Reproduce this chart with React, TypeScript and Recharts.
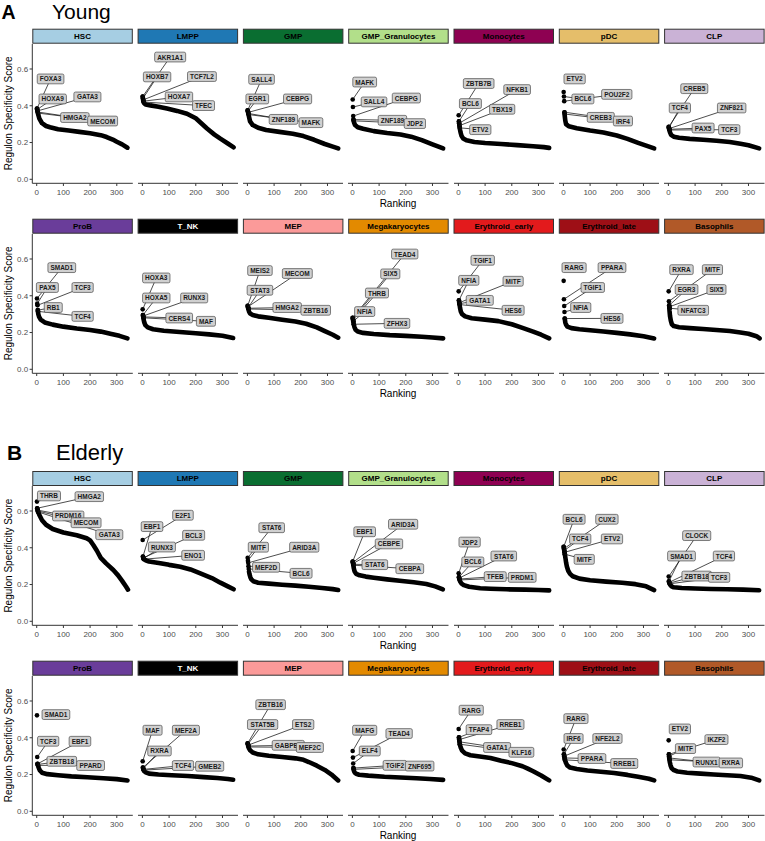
import React from 'react';
import { ComposedChart, Line, Scatter, XAxis, YAxis } from 'recharts';

const FONT = '"Liberation Sans", Arial, Helvetica, sans-serif';

const cellTypes = ['HSC', 'LMPP', 'GMP', 'GMP_Granulocytes', 'Monocytes', 'pDC', 'CLP', 'ProB', 'T_NK', 'MEP', 'Megakaryocytes', 'Erythroid_early', 'Erythroid_late', 'Basophils'];
const stripFill = ['#A6CEE3', '#1F78B4', '#0A6E31', '#B2DF8A', '#8E0152', '#E5BE6A', '#CAB2D6', '#6A3D9A', '#000000', '#FB9A99', '#E38A00', '#E31A1C', '#9E0F16', '#B15928'];
const stripTextColor = ['#000', '#000', '#000', '#000', '#000', '#000', '#000', '#000', '#FFF', '#000', '#000', '#000', '#000', '#000'];

const xTicks = [0, 100, 200, 300];
const yTicks = [0, 0.2, 0.4, 0.6];
const sections = ['Young', 'Elderly'];
const sectionLetters = ['A', 'B'];

// ---------- Young ----------
const youngTop: number[][] = [
  [0.385, 0.38, 0.372, 0.366, 0.36],
  [0.45, 0.44, 0.432, 0.425, 0.42],
  [0.375, 0.37, 0.364, 0.358, 0.352],
  [0.434, 0.393, 0.344, 0.325, 0.318],
  [0.348, 0.315, 0.305, 0.292, 0.28],
  [0.475, 0.45, 0.425, 0.365, 0.355],
  [0.285, 0.28, 0.276, 0.272, 0.268],
  [0.385, 0.357, 0.348, 0.322, 0.315],
  [0.326, 0.295, 0.29, 0.285, 0.28],
  [0.345, 0.34, 0.336, 0.332, 0.328],
  [0.28, 0.275, 0.27, 0.262, 0.245],
  [0.424, 0.375, 0.362, 0.357, 0.352],
  [0.481, 0.381, 0.344, 0.312, 0.276],
  [0.424, 0.37, 0.348, 0.34, 0.332],
];

const youngCurve: number[][][] = [
  [[1, 0.385], [3, 0.37], [6, 0.35], [10, 0.33], [20, 0.305], [35, 0.29], [50, 0.283], [80, 0.272], [120, 0.265], [160, 0.258], [200, 0.25], [240, 0.24], [262, 0.23], [285, 0.216], [300, 0.204], [320, 0.19], [340, 0.172]],
  [[1, 0.45], [3, 0.43], [6, 0.415], [12, 0.407], [30, 0.402], [60, 0.395], [92, 0.385], [130, 0.372], [167, 0.357], [200, 0.332], [242, 0.276], [270, 0.243], [292, 0.221], [320, 0.195], [342, 0.174]],
  [[1, 0.375], [3, 0.36], [6, 0.34], [10, 0.315], [20, 0.295], [40, 0.28], [70, 0.268], [120, 0.258], [170, 0.248], [210, 0.235], [250, 0.215], [290, 0.192], [320, 0.178], [340, 0.168]],
  [[4, 0.325], [6, 0.31], [10, 0.295], [20, 0.283], [40, 0.275], [80, 0.262], [130, 0.252], [180, 0.244], [220, 0.232], [260, 0.213], [300, 0.19], [340, 0.168]],
  [[2, 0.315], [4, 0.29], [6, 0.27], [8, 0.255], [12, 0.235], [18, 0.222], [30, 0.212], [60, 0.203], [100, 0.197], [160, 0.192], [220, 0.186], [280, 0.18], [320, 0.175], [340, 0.171]],
  [[4, 0.365], [5, 0.345], [7, 0.32], [10, 0.3], [20, 0.288], [50, 0.278], [100, 0.265], [150, 0.254], [200, 0.238], [240, 0.22], [280, 0.198], [310, 0.183], [340, 0.168]],
  [[1, 0.285], [3, 0.27], [6, 0.255], [10, 0.242], [20, 0.232], [40, 0.226], [80, 0.22], [130, 0.215], [180, 0.21], [230, 0.203], [270, 0.193], [300, 0.185], [340, 0.168]],
  [[4, 0.322], [6, 0.3], [9, 0.285], [15, 0.27], [30, 0.255], [60, 0.243], [100, 0.232], [150, 0.222], [200, 0.214], [240, 0.205], [280, 0.192], [310, 0.182], [340, 0.168]],
  [[2, 0.295], [4, 0.275], [7, 0.255], [11, 0.24], [20, 0.228], [40, 0.218], [80, 0.21], [140, 0.203], [200, 0.196], [250, 0.19], [300, 0.182], [340, 0.17]],
  [[1, 0.345], [3, 0.33], [6, 0.315], [10, 0.303], [20, 0.295], [40, 0.288], [80, 0.28], [130, 0.27], [180, 0.26], [220, 0.248], [260, 0.228], [290, 0.208], [320, 0.188], [340, 0.172]],
  [[1, 0.28], [3, 0.262], [5, 0.245], [8, 0.228], [12, 0.215], [20, 0.205], [40, 0.198], [80, 0.192], [140, 0.186], [200, 0.182], [260, 0.177], [300, 0.173], [340, 0.168]],
  [[2, 0.375], [4, 0.355], [6, 0.335], [9, 0.315], [14, 0.3], [25, 0.288], [50, 0.278], [100, 0.27], [150, 0.262], [200, 0.245], [240, 0.225], [280, 0.205], [310, 0.188], [340, 0.168]],
  [[5, 0.276], [7, 0.255], [10, 0.243], [15, 0.232], [30, 0.224], [60, 0.218], [100, 0.212], [150, 0.206], [200, 0.198], [250, 0.19], [300, 0.18], [340, 0.168]],
  [[3, 0.348], [4, 0.32], [6, 0.29], [9, 0.265], [13, 0.245], [20, 0.235], [40, 0.229], [80, 0.224], [130, 0.219], [180, 0.214], [230, 0.208], [270, 0.2], [300, 0.193], [330, 0.18], [342, 0.168]],
];

// [name, label rank, label score, 0 = no segment]
type Lab = [string, number, number, number?];
const youngLabels: Lab[][] = [
  [['FOXA3', 52, 0.546], ['HOXA9', 60, 0.437], ['GATA3', 190, 0.448], ['HMGA2', 143, 0.336], ['MECOM', 247, 0.317]],
  [['AKR1A1', 104, 0.665], ['HOXB7', 55, 0.557], ['TCF7L2', 223, 0.559], ['HOXA7', 137, 0.448], ['TFEC', 229, 0.401]],
  [['SALL4', 53, 0.544], ['EGR1', 37, 0.437], ['CEBPG', 188, 0.437], ['ZNF189', 135, 0.326], ['MAFK', 238, 0.308]],
  [['MAFK', 46, 0.529], ['SALL4', 81, 0.421], ['CEBPG', 202, 0.442], ['ZNF189', 150, 0.321], ['JDP2', 234, 0.303]],
  [['ZBTB7B', 76, 0.521], ['BCL6', 45, 0.412], ['NFKB1', 220, 0.488], ['TBX19', 164, 0.381], ['ETV2', 82, 0.27]],
  [['ETV2', 42, 0.546, 0], ['BCL6', 73, 0.437], ['POU2F2', 200, 0.462], ['CREB3', 140, 0.337], ['IRF4', 223, 0.317]],
  [['CREB5', 97, 0.493], ['TCF4', 43, 0.388], ['ZNF821', 237, 0.388], ['PAX5', 130, 0.279], ['TCF3', 228, 0.27]],
  [['SMAD1', 94, 0.553], ['PAX5', 40, 0.445], ['TCF3', 172, 0.445], ['RB1', 62, 0.336], ['TCF4', 172, 0.288]],
  [['HOXA3', 52, 0.497], ['HOXA5', 52, 0.388], ['RUNX3', 194, 0.388], ['CERS4', 138, 0.279], ['MAF', 238, 0.261]],
  [['MEIS2', 47, 0.537], ['MECOM', 187, 0.521], ['STAT3', 47, 0.43], ['HMGA2', 149, 0.336], ['ZBTB16', 256, 0.321]],
  [['TEAD4', 196, 0.627], ['SIX5', 142, 0.519], ['THRB', 92, 0.415], ['NFIA', 46, 0.314], ['ZFHX3', 167, 0.25]],
  [['TGIF1', 91, 0.593], ['NFIA', 39, 0.484], ['MITF', 205, 0.479], ['GATA1', 80, 0.375], ['HES6', 205, 0.321]],
  [['RARG', 40, 0.553, 0], ['PPARA', 182, 0.553], ['TGIF1', 110, 0.445], ['NFIA', 65, 0.336], ['HES6', 182, 0.277]],
  [['RXRA', 49, 0.542], ['MITF', 165, 0.542], ['EGR3', 68, 0.434], ['SIX5', 180, 0.434], ['NFATC3', 93, 0.321]],
];

// ---------- Elderly ----------
const elderlyTop: number[][] = [
  [0.651, 0.615, 0.605, 0.6, 0.595],
  [0.442, 0.352, 0.345, 0.342, 0.338],
  [0.345, 0.33, 0.318, 0.3, 0.285],
  [0.325, 0.32, 0.315, 0.31, 0.305],
  [0.261, 0.24, 0.235, 0.23, 0.225],
  [0.405, 0.395, 0.385, 0.375, 0.365],
  [0.243, 0.218, 0.212, 0.208, 0.204],
  [0.522, 0.295, 0.258, 0.255, 0.25],
  [0.272, 0.238, 0.232, 0.228, 0.224],
  [0.37, 0.365, 0.36, 0.355, 0.35],
  [0.328, 0.292, 0.26, 0.235, 0.228],
  [0.448, 0.402, 0.39, 0.378, 0.365],
  [0.336, 0.31, 0.3, 0.29, 0.28],
  [0.386, 0.31, 0.3, 0.29, 0.28],
];

const elderlyCurve: number[][][] = [
  [[2, 0.615], [5, 0.598], [10, 0.578], [20, 0.55], [35, 0.525], [60, 0.502], [100, 0.483], [150, 0.468], [187, 0.452], [200, 0.44], [212, 0.415], [225, 0.385], [240, 0.345], [260, 0.315], [287, 0.279], [305, 0.25], [320, 0.22], [335, 0.188], [342, 0.172]],
  [[2, 0.352], [4, 0.345], [7, 0.338], [12, 0.332], [25, 0.325], [67, 0.316], [100, 0.307], [142, 0.297], [180, 0.282], [217, 0.261], [260, 0.235], [292, 0.21], [320, 0.19], [342, 0.174]],
  [[6, 0.27], [8, 0.255], [11, 0.24], [15, 0.228], [22, 0.218], [40, 0.21], [80, 0.205], [130, 0.199], [180, 0.194], [230, 0.188], [280, 0.181], [320, 0.175], [340, 0.17]],
  [[1, 0.325], [3, 0.31], [5, 0.29], [8, 0.272], [14, 0.258], [27, 0.25], [50, 0.243], [80, 0.237], [130, 0.228], [177, 0.221], [230, 0.212], [277, 0.203], [310, 0.19], [339, 0.174]],
  [[2, 0.24], [4, 0.228], [7, 0.215], [12, 0.205], [20, 0.197], [40, 0.188], [82, 0.18], [120, 0.177], [180, 0.174], [250, 0.172], [300, 0.17], [340, 0.168]],
  [[1, 0.405], [4, 0.38], [6, 0.36], [8, 0.34], [10, 0.32], [13, 0.298], [18, 0.275], [25, 0.258], [35, 0.245], [60, 0.232], [100, 0.223], [160, 0.216], [220, 0.21], [270, 0.202], [310, 0.19], [340, 0.17]],
  [[2, 0.218], [4, 0.207], [7, 0.198], [12, 0.19], [20, 0.185], [50, 0.181], [100, 0.178], [160, 0.176], [220, 0.174], [280, 0.172], [340, 0.169]],
  [[3, 0.258], [5, 0.248], [8, 0.235], [12, 0.222], [20, 0.21], [40, 0.202], [80, 0.196], [130, 0.19], [190, 0.185], [250, 0.18], [300, 0.175], [340, 0.168]],
  [[2, 0.238], [4, 0.228], [7, 0.218], [12, 0.212], [25, 0.205], [60, 0.2], [110, 0.196], [170, 0.192], [230, 0.186], [280, 0.181], [320, 0.176], [340, 0.172]],
  [[1, 0.37], [3, 0.355], [6, 0.342], [10, 0.332], [20, 0.32], [40, 0.31], [80, 0.302], [130, 0.295], [180, 0.288], [210, 0.28], [230, 0.268], [260, 0.248], [290, 0.225], [315, 0.2], [340, 0.168]],
  [[4, 0.235], [6, 0.218], [9, 0.21], [14, 0.204], [25, 0.199], [60, 0.194], [120, 0.188], [180, 0.184], [240, 0.18], [290, 0.176], [340, 0.171]],
  [[2, 0.402], [4, 0.38], [6, 0.36], [9, 0.345], [14, 0.33], [25, 0.315], [45, 0.305], [80, 0.298], [120, 0.29], [160, 0.275], [200, 0.262], [240, 0.245], [260, 0.232], [280, 0.218], [310, 0.195], [340, 0.168]],
  [[2, 0.31], [4, 0.295], [6, 0.28], [9, 0.265], [14, 0.25], [25, 0.238], [50, 0.23], [90, 0.222], [140, 0.215], [190, 0.208], [240, 0.198], [280, 0.188], [320, 0.177], [340, 0.168]],
  [[2, 0.31], [3, 0.29], [5, 0.27], [8, 0.25], [12, 0.235], [18, 0.226], [35, 0.216], [70, 0.21], [120, 0.205], [170, 0.2], [220, 0.196], [270, 0.192], [310, 0.183], [340, 0.168]],
];

const elderlyLabels: Lab[][] = [
  [['THRB', 46, 0.682], ['HMGA2', 197, 0.678], ['PRDM16', 118, 0.573], ['MECOM', 185, 0.536], ['GATA3', 272, 0.471]],
  [['E2F1', 152, 0.577], ['EBF1', 36, 0.515], ['BCL3', 192, 0.468], ['RUNX3', 73, 0.404], ['ENO1', 190, 0.359]],
  [['STAT6', 91, 0.509], ['MITF', 41, 0.403], ['ARID3A', 213, 0.403], ['MEF2D', 70, 0.294], ['BCL6', 201, 0.261]],
  [['EBF1', 46, 0.487], ['ARID3A', 190, 0.528], ['CEBPE', 137, 0.421], ['STAT6', 84, 0.308], ['CEBPA', 215, 0.286]],
  [['JDP2', 42, 0.431], ['BCL6', 54, 0.323], ['STAT6', 170, 0.355], ['TFEB', 138, 0.243], ['PRDM1', 239, 0.239]],
  [['BCL6', 40, 0.555], ['CUX2', 163, 0.555], ['TCF4', 63, 0.448], ['ETV2', 182, 0.448], ['MITF', 78, 0.337]],
  [['CLOCK', 106, 0.466], ['SMAD1', 49, 0.355], ['TCF4', 208, 0.355], ['ZBTB18', 106, 0.246], ['TCF3', 190, 0.239]],
  [['SMAD1', 72, 0.526, 0], ['TCF3', 43, 0.381], ['EBF1', 162, 0.381], ['ZBTB18', 94, 0.272], ['PPARD', 202, 0.249]],
  [['MAF', 38, 0.441], ['MEF2A', 163, 0.441], ['RXRA', 64, 0.328], ['TCF4', 152, 0.249], ['GMEB2', 252, 0.245]],
  [['ZBTB16', 87, 0.58], ['STAT5B', 57, 0.472], ['ETS2', 209, 0.472], ['GABPB1', 153, 0.359], ['MEF2C', 234, 0.347]],
  [['MAFG', 46, 0.441], ['TEAD4', 175, 0.423], ['ELF4', 65, 0.328], ['TGIF2', 159, 0.25], ['ZNF695', 252, 0.246]],
  [['RARG', 48, 0.55], ['TFAP4', 77, 0.444], ['RREB1', 195, 0.472], ['GATA1', 145, 0.347], ['KLF16', 236, 0.321]],
  [['RARG', 47, 0.504], ['IRF6', 38, 0.396], ['NFE2L2', 165, 0.396], ['PPARA', 107, 0.287], ['RREB1', 228, 0.26]],
  [['ETV2', 43, 0.448, 0], ['IKZF2', 180, 0.39], ['MITF', 64, 0.341], ['RUNX1', 143, 0.268], ['RXRA', 234, 0.263]],
];

const tops = [youngTop, elderlyTop];
const curves = [youngCurve, elderlyCurve];
const labelSets = [youngLabels, elderlyLabels];

// ---------- layout ----------
const rowTops = [[28.7, 218.7], [471, 660.7]];
const PANEL_W = 100.5;
const COL_STEP = 105.3;
const FIRST_LEFT = 32.3;
const STRIP_H = 15;
const CHART_H = 157.3;
const XAXIS_H = 18;

const CW: Record<string, number> = {
  A: 0.722, B: 0.722, C: 0.722, D: 0.722, E: 0.667, F: 0.611, G: 0.778, H: 0.722, I: 0.278, J: 0.556,
  K: 0.722, L: 0.611, M: 0.833, N: 0.722, O: 0.778, P: 0.667, Q: 0.778, R: 0.722, S: 0.667, T: 0.611,
  U: 0.722, V: 0.667, W: 0.944, X: 0.667, Y: 0.667, Z: 0.611, _: 0.556,
};
const LAB_FS = 6.5;
const textW = (s: string, fs: number) => s.split('').reduce((a, ch) => a + (CW[ch] ?? 0.556), 0) * fs;

const dotShape = (p: any) => <circle cx={p.cx} cy={p.cy} r={2.3} fill="#000" />;
const emptyShape = () => <g />;
const labelShape = (p: any) => {
  const name: string = p.payload.name;
  const w = textW(name, LAB_FS) + 5;
  const h = 9.8;
  return (
    <g>
      <rect x={p.cx - w / 2} y={p.cy - h / 2} width={w} height={h} rx={1.6} ry={1.6} fill="#D0D0D0" stroke="#4A4A4A" strokeWidth={0.7} />
      <text x={p.cx} y={p.cy} textAnchor="middle" dominantBaseline="central" fontSize={LAB_FS} fontWeight="bold" fontFamily={FONT} fill="#1A1A1A">{name}</text>
    </g>
  );
};

function Panel({ top, curve, labels, col, T }: { top: number[]; curve: number[][]; labels: Lab[]; col: number; T: number }) {
  const first = col === 0;
  const yW = first ? FIRST_LEFT : 0;
  const left = first ? 0 : FIRST_LEFT + col * COL_STEP;
  const curveData = curve.map(([x, y]) => ({ x, y }));
  const topData = top.map((y, i) => ({ x: i + 1, y }));
  const labelData = labels.map(([name, x, y]) => ({ x, y, name }));
  return (
    <div style={{ position: 'absolute', left, top: T + STRIP_H }}>
      <ComposedChart width={PANEL_W + yW} height={CHART_H} margin={{ top: 0, right: 0, bottom: 0, left: 0 }}>
        <XAxis
          type="number" dataKey="x" domain={[-16.5, 360]} allowDataOverflow ticks={xTicks} interval={0}
          height={XAXIS_H} tickSize={2.7} tickMargin={3.3}
          axisLine={{ stroke: '#333', strokeWidth: 1 }} tickLine={{ stroke: '#333' }}
          tick={{ fontSize: 8, fill: '#4D4D4D', fontFamily: FONT }}
        />
        <YAxis
          type="number" dataKey="y" domain={[-0.0218, 0.736]} allowDataOverflow ticks={yTicks} interval={0}
          hide={!first} width={yW} tickSize={2.7} tickMargin={1.5}
          tickFormatter={(v: number) => v.toFixed(1)}
          axisLine={{ stroke: '#333', strokeWidth: 1 }} tickLine={{ stroke: '#333' }}
          tick={{ fontSize: 8, fill: '#4D4D4D', fontFamily: FONT }}
        />
        <Line data={curveData} dataKey="y" type="linear" stroke="#000" strokeWidth={4.6} strokeLinecap="round" strokeLinejoin="round" dot={false} activeDot={false} isAnimationActive={false} />
        <Scatter data={topData} dataKey="y" fill="#000" shape={dotShape} isAnimationActive={false} />
        {labels.map((l, i) =>
          l[3] === 0 ? null : (
            <Scatter
              key={'seg' + i}
              data={[{ x: i + 1, y: top[i] }, { x: l[1], y: l[2] }]}
              dataKey="y"
              fill="#000"
              line={{ stroke: '#111', strokeWidth: 0.75 }}
              shape={emptyShape}
              isAnimationActive={false}
            />
          )
        )}
        <Scatter data={labelData} dataKey="y" fill="#000" shape={labelShape} isAnimationActive={false} />
      </ComposedChart>
    </div>
  );
}

export default function App() {
  const panels: React.ReactNode[] = [];
  const overlay: React.ReactNode[] = [];
  sections.forEach((sec, s) => {
    rowTops[s].forEach((T, r) => {
      for (let c = 0; c < 7; c++) {
        const k = r * 7 + c;
        panels.push(
          <Panel key={`p${s}-${k}`} top={tops[s][k]} curve={curves[s][k]} labels={labelSets[s][k]} col={c} T={T} />
        );
        const L = FIRST_LEFT + c * COL_STEP;
        overlay.push(
          <g key={`st${s}-${k}`}>
            <rect x={L + 0.5} y={T + 0.5} width={PANEL_W - 1} height={STRIP_H - 1} fill={stripFill[k]} stroke="#333" strokeWidth={1} />
            <text x={L + PANEL_W / 2} y={T + STRIP_H / 2 + 0.3} textAnchor="middle" dominantBaseline="central" fontSize={8} fontWeight="bold" fill={stripTextColor[k]} fontFamily={FONT}>{cellTypes[k]}</text>
          </g>
        );
      }
      const py = T + STRIP_H + (CHART_H - XAXIS_H) / 2;
      overlay.push(
        <text key={`yt${s}-${r}`} x={9} y={py} transform={`rotate(-90 9 ${py})`} textAnchor="middle" dominantBaseline="central" fontSize={10} fill="#000" fontFamily={FONT}>Regulon Specificity Score</text>
      );
      overlay.push(
        <text key={`xt${s}-${r}`} x={398} y={T + 174.7} textAnchor="middle" dominantBaseline="central" fontSize={10} fill="#000" fontFamily={FONT}>Ranking</text>
      );
    });
  });

  return (
    <div style={{ position: 'absolute', left: 0, top: 0, width: 765, height: 841, background: '#fff', fontFamily: FONT }}>
      <svg width={765} height={841} style={{ position: 'absolute', left: 0, top: 0 }}>
        <text x={1.5} y={18.5} fontSize={19.5} fontWeight="bold" fontFamily={FONT} fill="#000">{sectionLetters[0]}</text>
        <text x={52} y={18.5} fontSize={21} fontFamily={FONT} fill="#000">{sections[0]}</text>
        <text x={7} y={460} fontSize={21} fontWeight="bold" fontFamily={FONT} fill="#000">{sectionLetters[1]}</text>
        <text x={56} y={460} fontSize={22} fontFamily={FONT} fill="#000">{sections[1]}</text>
        {overlay}
      </svg>
      {panels}
    </div>
  );
}
